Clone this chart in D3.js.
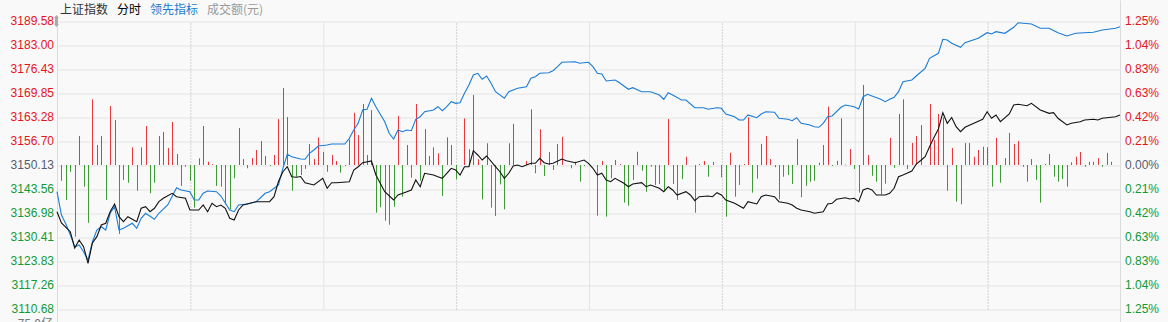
<!DOCTYPE html>
<html>
<head>
<meta charset="utf-8">
<script src="https://cdn.jsdelivr.net/npm/d3@7"></script>
<style>
  html, body { margin: 0; padding: 0; background: #f9f9f9; }
  svg { display: block; }
  text { font-family: "Liberation Sans", Arial, sans-serif; }
  .cn { font-family: "Noto Sans CJK SC", sans-serif; }
</style>
</head>
<body>
<svg id="canvas"></svg>
<script>
/***********************************************************************/
// Data

var priceTicks = [3189.58, 3183.00, 3176.43, 3169.85, 3163.28, 3156.70, 3150.13, 3143.56, 3136.98, 3130.41, 3123.83, 3117.26, 3110.68];
var pctLabels = ['1.25%', '1.04%', '0.83%', '0.63%', '0.42%', '0.21%', '0.00%', '0.21%', '0.42%', '0.63%', '0.83%', '1.04%', '1.25%'];
var preClose = 3150.13;
var volMax = 75.0;   // 亿
var volLabel = '75.0亿';
var timeTicks = [30, 60, 90, 120, 150, 180, 210];
var legend = [
  { text: '上证指数', color: '#333' },
  { text: '分时', color: '#000' },
  { text: '领先指标', color: '#1a7cd0' },
  { text: '成交额(元)', color: '#999' }
];

// 上证指数 (minute, value)
var indexMin = [0,1,3,4,5,6,7,8,9,10,11,12,13,14,15,16,18,19,20,21,22,23,24,26,27,29,30,32,33,34,35,36,37,38,39,40,41,42,45,48,49,50,51,52,53,54,55,56,58,60,61,62,63,66,67,68,69,71,72,74,76,77,79,80,81,82,83,85,86,87,88,89,90,91,92,93,94,95,96,97,99,100,101,102,103,104,105,107,108,109,110,111,112,114,115,117,119,120,121,122,123,124,125,126,128,129,130,132,133,134,136,137,138,139,140,142,143,144,145,147,148,149,150,151,153,155,156,158,159,160,162,163,165,166,167,168,170,171,173,174,175,176,178,179,180,181,182,183,184,185,187,188,189,190,191,193,194,195,196,197,198,199,200,201,202,203,204,205,207,209,210,211,212,213,215,216,217,219,220,222,224,225,226,228,229,231,232,234,235,236,238,239,240];
var indexVal = [3137.34,3134.24,3131.86,3127.39,3129.58,3127.75,3123.20,3128.76,3130.49,3133.69,3134.16,3137.34,3139.45,3135.97,3134.60,3135.97,3134.60,3138.27,3138.71,3137.34,3138.27,3140.08,3141.01,3142.38,3141.45,3141.01,3137.80,3137.80,3139.17,3137.34,3139.64,3138.71,3139.17,3138.27,3135.53,3135.06,3137.80,3139.17,3140.08,3140.08,3141.45,3145.60,3148.29,3149.66,3146.92,3146.76,3146.98,3145.28,3144.65,3146.49,3143.75,3145.28,3145.28,3145.55,3148.76,3149.66,3150.76,3151.23,3147.39,3142.82,3140.54,3141.91,3142.82,3143.28,3146.02,3144.18,3147.86,3147.39,3146.92,3146.49,3147.86,3149.23,3148.76,3147.39,3149.66,3149.66,3154.05,3152.87,3151.50,3152.60,3149.66,3148.29,3146.49,3147.86,3149.86,3150.13,3149.66,3150.60,3150.60,3151.97,3150.76,3150.40,3150.60,3151.77,3151.31,3150.76,3151.50,3150.60,3149.23,3147.39,3147.86,3146.02,3145.55,3146.49,3145.12,3144.18,3144.92,3145.28,3144.18,3144.65,3143.75,3142.82,3144.18,3143.28,3141.91,3142.82,3141.91,3140.35,3141.45,3141.64,3141.45,3142.54,3141.91,3140.54,3139.64,3138.27,3140.08,3139.45,3141.45,3141.91,3141.45,3140.08,3139.64,3139.17,3138.27,3137.80,3137.34,3136.90,3137.34,3139.45,3139.64,3140.73,3141.17,3140.81,3141.01,3140.08,3143.28,3143.75,3143.28,3141.91,3141.91,3142.38,3143.75,3146.92,3147.39,3148.49,3150.40,3151.36,3152.40,3155.14,3157.67,3159.99,3164.46,3161.55,3163.15,3160.62,3159.25,3160.46,3161.55,3162.65,3164.73,3162.92,3163.83,3162.00,3164.10,3166.57,3166.76,3166.38,3167.03,3165.20,3164.29,3164.46,3162.92,3161.09,3161.55,3161.99,3162.46,3162.65,3162.46,3162.92,3163.20,3163.36,3163.83];

// 领先指标 (minute, value)
var leadMin = [0,1,2,3,4,5,6,7,8,9,10,11,12,13,14,15,17,18,19,20,22,23,25,27,28,30,31,32,33,34,36,37,39,40,41,43,45,47,48,50,51,52,53,55,56,57,58,59,61,62,64,65,66,67,68,69,70,71,72,74,75,76,77,78,79,80,81,82,83,85,86,87,88,89,90,91,92,93,94,95,96,97,98,99,101,102,104,106,107,108,109,111,112,113,114,117,118,120,121,122,123,124,126,127,129,130,132,134,136,137,138,139,141,142,144,146,147,149,150,151,153,154,155,156,158,159,160,162,163,165,166,167,168,170,171,172,173,174,175,177,178,180,181,182,183,184,186,187,188,189,190,191,193,194,196,197,199,200,201,202,204,205,208,210,211,212,214,216,217,220,222,224,226,228,230,234,236,239,240];
var leadVal = [3142.82,3136.43,3133.97,3131.04,3127.66,3128.21,3126.38,3124.10,3129.12,3132.32,3133.23,3132.32,3136.90,3138.71,3132.32,3132.79,3134.16,3132.79,3135.53,3136.90,3135.25,3136.90,3139.17,3143.91,3143.28,3142.82,3140.54,3140.54,3142.38,3143.01,3142.82,3141.64,3137.80,3137.34,3139.17,3139.45,3140.08,3142.38,3142.82,3144.65,3149.23,3153.06,3152.40,3151.77,3151.69,3153.34,3154.24,3155.34,3155.61,3155.88,3155.88,3155.88,3157.44,3159.72,3161.55,3165.20,3165.39,3168.40,3166.10,3161.99,3158.81,3157.25,3159.72,3159.25,3159.72,3159.53,3162.65,3163.36,3164.73,3165.20,3166.10,3165.01,3166.10,3167.47,3167.03,3167.20,3169.77,3172.05,3174.79,3175.25,3173.61,3174.51,3172.51,3170.21,3168.40,3170.21,3171.14,3171.58,3173.88,3174.32,3175.25,3175.42,3175.96,3177.06,3178.27,3178.43,3177.99,3178.27,3177.06,3175.25,3175.06,3173.14,3173.42,3172.68,3170.87,3171.31,3170.21,3170.21,3169.31,3168.13,3169.94,3169.31,3167.94,3167.94,3165.83,3165.83,3165.39,3165.83,3165.66,3164.10,3163.36,3162.46,3162.46,3163.83,3163.09,3164.10,3164.73,3164.57,3162.92,3162.65,3162.27,3163.09,3161.55,3161.09,3160.62,3160.46,3161.55,3163.36,3163.55,3165.94,3166.57,3166.10,3165.47,3168.84,3169.50,3169.03,3168.13,3167.47,3168.13,3168.68,3170.21,3172.95,3173.42,3174.51,3176.62,3179.36,3180.73,3184.57,3184.37,3183.47,3182.37,3183.64,3184.84,3186.37,3186.02,3186.65,3186.21,3187.85,3189.11,3188.76,3187.58,3187.58,3186.37,3185.47,3186.21,3186.48,3187.11,3187.58,3188.02];

// 成交额 bars (minute, signed amount in 亿: red up, green down)
var barMin = [1,2,3,4,5,6,7,8,9,10,11,12,13,14,15,16,17,18,19,20,21,22,23,24,25,26,27,28,29,30,31,32,33,34,35,36,37,38,39,40,41,42,43,44,45,46,47,48,49,50,51,52,53,54,55,56,57,58,59,60,61,62,63,64,65,66,67,68,69,70,71,72,73,74,75,76,77,78,79,80,81,82,83,84,85,86,87,88,89,90,92,93,94,95,96,97,98,99,100,101,102,103,106,107,108,109,110,111,112,113,114,116,117,118,119,122,123,124,125,126,127,128,129,130,131,132,133,134,135,136,137,138,139,140,141,142,144,145,146,147,148,150,151,152,153,154,155,156,157,158,159,160,161,162,163,164,165,166,167,168,169,170,171,172,173,174,175,176,177,178,179,180,181,182,183,184,185,186,187,188,189,190,191,192,193,194,195,197,198,199,200,201,202,203,204,205,206,207,208,209,210,211,212,213,214,215,216,217,218,219,220,221,222,223,224,225,226,227,228,229,230,231,232,233,234,235,236,237,238];
var barVal = [-8.2,-18.2,-3.5,-37.3,15.1,-11.3,-30.1,34.2,10.4,15.1,-18.2,30.7,23.4,-35.9,-7.8,-9.2,9.2,-13.4,9.2,20.3,-14.7,-9.2,15.1,17.2,8.9,22.4,5.7,-10.9,-0.9,-8.2,-22.2,3.5,20.3,1.7,0.4,-10.9,-11.3,-20.5,-23.1,-6.9,19.3,3.1,-1.7,3.6,7.8,12.5,4.7,-0.5,5.2,24.0,40.1,25.0,-13.4,-6.1,-5.2,-2.0,10.9,3.1,14.4,6.8,-3.5,5.2,2.1,-4.0,-0.5,13.4,27.2,15.6,31.8,5.2,28.6,-24.8,-22.0,-29.0,-31.1,-21.7,25.5,-16.5,10.4,-6.6,31.8,-8.2,18.7,4.7,9.2,6.1,-16.1,14.4,10.4,-7.4,24.3,8.2,36.5,3.0,-17.9,11.3,-22.2,-26.6,-10.1,-23.1,11.3,21.4,2.1,29.0,-4.3,18.6,-5.7,6.8,-2.6,10.9,14.7,-1.7,1.7,-8.7,-0.5,-26.4,2.1,-26.9,-6.9,2.6,0.5,-19.6,-21.2,-7.8,6.9,-3.0,-13.9,-0.9,-10.4,-9.9,-13.0,24.0,-9.9,-18.2,-7.4,4.3,-24.8,0.5,2.1,-6.1,1.6,-6.4,-26.9,6.4,-16.5,-10.4,0.5,24.8,-14.4,-7.1,10.9,15.1,3.1,-1.2,-17.9,-6.1,-5.2,-9.9,13.5,-16.8,-10.9,-8.7,-8.2,1.2,10.4,30.4,-0.5,2.2,24.3,0.2,8.3,-2.1,-14.4,41.7,5.2,-5.6,-8.7,-15.3,-9.7,14.1,-1.4,26.6,34.2,-2.2,11.5,15.1,20.8,31.8,13.0,26.6,24.8,-13.4,8.9,-19.1,-20.5,11.5,11.5,4.3,7.8,9.5,9.2,-11.3,14.1,-9.2,3.6,16.7,10.9,12.5,-0.9,-8.7,3.1,-7.7,-19.6,0.5,5.7,-6.1,-8.7,-7.3,-11.3,1.4,4.3,6.8,-0.9,1.7,1.7,3.6,-0.9,6.3,1.7];

/***********************************************************************/
// Layout

var svg_width = 1168, svg_height = 322;
var plotLeft = 57, plotRight = 1120, plotTop = 21, plotBottom = 309;
var colorUp = '#e5141b', colorDown = '#0f9a35', colorFlat = '#555d6e';
var gridColor = '#e4e4e4';

var svg = d3.select('#canvas').attr('width', svg_width).attr('height', svg_height);

var x = d3.scaleLinear().domain([0, 240]).range([plotLeft, plotRight]);
var y = d3.scaleLinear().domain([priceTicks[priceTicks.length - 1], priceTicks[0]]).range([plotBottom, plotTop]);
var vol = d3.scaleLinear().domain([-volMax, volMax]).range([plotBottom, plotTop]);

function tickColor(v){
  if(Math.abs(v - preClose) < 0.005) return colorFlat;
  return v > preClose ? colorUp : colorDown;
}

/***********************************************************************/
// Grid

var grid = svg.append('g').attr('transform', 'translate(0.5,0.5)');

grid.append('g')
  .attr('transform', 'translate(' + plotLeft + ',0)')
  .call(d3.axisLeft(y).tickValues(priceTicks).tickSize(-(plotRight - plotLeft)).tickFormat(''))
  .call(g => g.select('.domain').remove())
  .call(g => g.selectAll('line').attr('stroke', gridColor));

grid.append('g')
  .attr('transform', 'translate(0,' + plotBottom + ')')
  .call(d3.axisBottom(x).tickValues(timeTicks).tickSize(-(plotBottom - plotTop)).tickFormat(''))
  .call(g => g.select('.domain').remove())
  .call(g => g.selectAll('line')
    .attr('stroke', (d, i) => i % 2 === 0 ? '#aaa' : gridColor)
    .attr('stroke-dasharray', (d, i) => i % 2 === 0 ? '1,2' : null));

// frame lines
grid.append('line').attr('x1', plotLeft).attr('x2', plotLeft).attr('y1', 18).attr('y2', svg_height).attr('stroke', '#dcdcdc');
grid.append('line').attr('x1', plotRight).attr('x2', plotRight).attr('y1', 0).attr('y2', svg_height).attr('stroke', '#dcdcdc');

/***********************************************************************/
// Axis labels

svg.append('g')
  .attr('transform', 'translate(' + (plotLeft - 3) + ',0)')
  .call(d3.axisLeft(y).tickValues(priceTicks).tickSize(0).tickPadding(0).tickFormat(d3.format('.2f')))
  .call(g => g.select('.domain').remove())
  .call(g => g.selectAll('text')
    .attr('font-size', 12)
    .attr('font-family', '"Liberation Sans", Arial, sans-serif')
    .attr('fill', d => tickColor(d)));

svg.append('g')
  .attr('transform', 'translate(' + (plotRight + 5) + ',0)')
  .call(d3.axisRight(y).tickValues(priceTicks).tickSize(0).tickPadding(0).tickFormat((d, i) => pctLabels[i]))
  .call(g => g.select('.domain').remove())
  .call(g => g.selectAll('text')
    .attr('font-size', 12)
    .attr('font-family', '"Liberation Sans", Arial, sans-serif')
    .attr('fill', d => tickColor(d)));

// little drag handle next to top label
svg.append('path')
  .attr('d', 'M54,18 L56.5,15 L59,18 Z M54,24 L56.5,27 L59,24 Z')
  .attr('fill', '#aaa');
svg.append('rect').attr('x', 55).attr('y', 18).attr('width', 3).attr('height', 6).attr('fill', '#aaa');

// volume max label, cut at bottom like the original
svg.append('text')
  .attr('x', 53).attr('y', 327.5)
  .attr('text-anchor', 'end')
  .attr('font-size', 12)
  .attr('fill', '#777')
  .attr('class', 'cn')
  .text(volLabel);

/***********************************************************************/
// Legend

var lx = 60;
var legendG = svg.append('g');
legend.forEach(item => {
  var t = legendG.append('text')
    .attr('class', 'cn')
    .attr('x', lx).attr('y', 14)
    .attr('font-size', 12)
    .attr('fill', item.color)
    .text(item.text);
  lx += t.node().getComputedTextLength() + 9;
});

/***********************************************************************/
// Bars

var bars = d3.zip(barMin, barVal);
svg.append('g').selectAll('rect')
  .data(bars)
  .join('rect')
  .attr('x', d => Math.round(x(d[0])))
  .attr('y', d => d[1] > 0 ? vol(d[1]) : vol(0))
  .attr('width', 1)
  .attr('height', d => Math.max(0.6, Math.abs(vol(d[1]) - vol(0))))
  .attr('fill', d => d[1] > 0 ? '#e8383d' : '#3d9a35');

/***********************************************************************/
// Lines

var line = d3.line().x(d => x(d[0])).y(d => y(d[1]));

svg.append('path')
  .datum(d3.zip(leadMin, leadVal))
  .attr('d', line)
  .attr('fill', 'none')
  .attr('stroke', '#1a7cd6')
  .attr('stroke-width', 1.1);

svg.append('path')
  .datum(d3.zip(indexMin, indexVal))
  .attr('d', line)
  .attr('fill', 'none')
  .attr('stroke', '#111')
  .attr('stroke-width', 1.1);
</script>
</body>
</html>
